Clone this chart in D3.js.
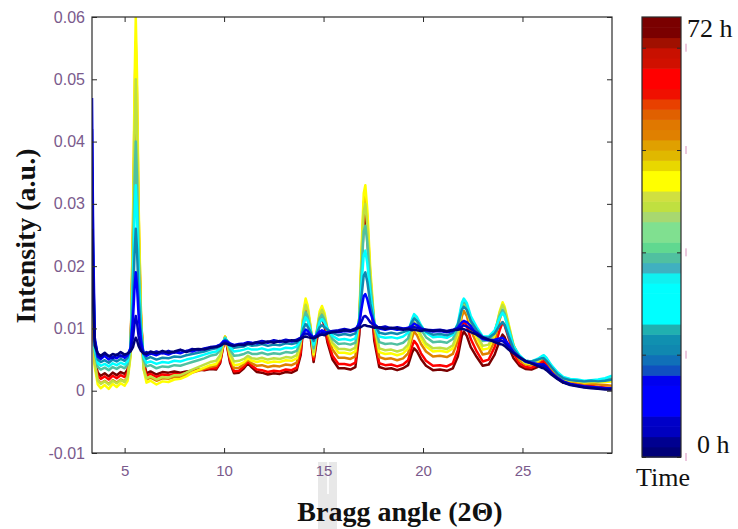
<!DOCTYPE html>
<html><head><meta charset="utf-8">
<script src="https://cdn.jsdelivr.net/npm/d3@7"></script>
<style>body{margin:0;background:#fff}svg{display:block}</style>
</head><body><svg id="c" width="738" height="529"></svg>
<script>
// Bragg angles (2θ) sampled along the patterns
const braggAngles = [
3.36,3.42,3.5,3.65,3.8,4.0,4.2,4.4,4.6,4.8,
5.0,5.15,5.3,5.42,5.5,5.56,5.62,5.7,5.82,5.95,
6.1,6.3,6.6,6.9,7.2,7.5,7.8,8.1,8.4,8.7,
9.0,9.3,9.6,9.8,9.95,10.05,10.15,10.3,10.5,10.75,
11.0,11.2,11.4,11.65,11.9,12.2,12.5,12.8,13.1,13.4,
13.65,13.85,14.0,14.1,14.2,14.35,14.5,14.65,14.8,14.92,
15.05,15.2,15.45,15.75,16.05,16.35,16.6,16.8,16.92,17.02,
17.1,17.2,17.35,17.55,17.8,18.1,18.4,18.7,19.0,19.25,
19.45,19.55,19.7,19.9,20.15,20.5,20.85,21.2,21.5,21.75,
21.95,22.05,22.2,22.4,22.7,23.0,23.3,23.6,23.85,24.0,
24.1,24.3,24.55,24.85,25.15,25.45,25.75,25.95,26.07,26.2,
26.45,26.75,27.05,27.4,27.75,28.1,28.45,28.8,29.15,29.5];

// Intensity patterns, one per time step (spectrum index on the colour bar)
const spectrum00 = [
.026,.014,.0072,.0060,.0056,.0061,.0055,.0059,.0057,.0062,
.0058,.0060,.0063,.0070,.0080,.0085,.0081,.0072,.0064,.0060,
.0059,.0063,.0060,.0064,.0061,.0063,.0066,.0062,.0066,.0067,
.0066,.0069,.0070,.0072,.0075,.0076,.0075,.0073,.0072,.0074,
.0073,.0076,.0075,.0078,.0076,.0079,.0077,.0080,.0078,.0081,
.0080,.0083,.0086,.0087,.0086,.0085,.0084,.0086,.0089,.0090,
.0089,.0092,.0094,.0095,.0097,.0096,.0099,.0101,.0103,.0105,
.0105,.0104,.0103,.0101,.0102,.0099,.0101,.0100,.0098,.0099,
.0097,.0098,.0097,.0096,.0098,.0096,.0097,.0095,.0097,.0098,
.0099,.0099,.0097,.0094,.0090,.0085,.0082,.0078,.0075,.0074,
.0072,.0066,.0060,.0053,.0048,.0044,.0040,.0037,.0036,.0033,
.0026,.0019,.0013,.0009,.0007,.0005,.0004,.0003,.0002,.0002];
const spectrum03 = [
.042,.020,.0080,.0058,.0053,.0059,.0056,.0052,.0058,.0055,
.0057,.0059,.0066,.0085,.0108,.0120,.0110,.0088,.0069,.0060,
.0062,.0059,.0063,.0060,.0064,.0061,.0065,.0063,.0067,.0065,
.0068,.0070,.0071,.0073,.0077,.0078,.0077,.0075,.0073,.0074,
.0075,.0077,.0076,.0078,.0080,.0078,.0081,.0079,.0082,.0080,
.0082,.0085,.0090,.0092,.0091,.0088,.0086,.0088,.0091,.0093,
.0092,.0094,.0096,.0097,.0099,.0097,.0100,.0104,.0112,.0119,
.0120,.0117,.0110,.0105,.0101,.0103,.0100,.0102,.0100,.0100,
.0101,.0102,.0101,.0099,.0098,.0097,.0098,.0096,.0098,.0100,
.0103,.0105,.0103,.0099,.0093,.0086,.0082,.0080,.0080,.0080,
.0077,.0070,.0062,.0054,.0047,.0044,.0041,.0040,.0040,.0037,
.0028,.0020,.0014,.0010,.0008,.0006,.0005,.0004,.0003,.0003];
const spectrum05 = [
.047,.024,.0085,.0055,.0051,.0056,.0050,.0055,.0052,.0057,
.0053,.0057,.0069,.0115,.0165,.0190,.0169,.0122,.0080,.0060,
.0056,.0060,.0057,.0061,.0058,.0062,.0060,.0064,.0063,.0066,
.0067,.0069,.0071,.0074,.0079,.0080,.0079,.0076,.0073,.0075,
.0076,.0078,.0077,.0076,.0079,.0077,.0080,.0078,.0081,.0079,
.0081,.0085,.0093,.0098,.0096,.0090,.0085,.0089,.0095,.0097,
.0095,.0093,.0095,.0094,.0096,.0095,.0097,.0109,.0134,.0152,
.0155,.0147,.0126,.0107,.0100,.0098,.0100,.0098,.0099,.0101,
.0104,.0108,.0105,.0100,.0097,.0095,.0096,.0094,.0096,.0101,
.0110,.0112,.0110,.0104,.0090,.0083,.0081,.0082,.0084,.0085,
.0082,.0074,.0062,.0053,.0047,.0045,.0043,.0042,.0042,.0039,
.0029,.0021,.0015,.0011,.0009,.0007,.0006,.0005,.0004,.0004];
const spectrum10 = [
.036,.019,.0075,.0050,.0046,.0049,.0045,.0050,.0047,.0051,
.0048,.0053,.0069,.0143,.0222,.0260,.0228,.0154,.0090,.0060,
.0051,.0054,.0050,.0053,.0052,.0055,.0054,.0057,.0059,.0061,
.0063,.0066,.0068,.0072,.0078,.0082,.0080,.0074,.0069,.0070,
.0071,.0074,.0072,.0073,.0075,.0072,.0074,.0073,.0076,.0075,
.0077,.0084,.0101,.0107,.0103,.0094,.0080,.0091,.0102,.0105,
.0102,.0098,.0093,.0089,.0091,.0089,.0092,.0112,.0155,.0185,
.0190,.0175,.0140,.0108,.0093,.0091,.0093,.0091,.0094,.0097,
.0111,.0116,.0112,.0103,.0095,.0090,.0091,.0089,.0093,.0106,
.0130,.0135,.0130,.0112,.0097,.0086,.0085,.0092,.0105,.0110,
.0106,.0088,.0067,.0055,.0048,.0047,.0050,.0052,.0052,.0048,
.0038,.0027,.0020,.0017,.0016,.0015,.0016,.0015,.0016,.0018];
const spectrum14 = [
.034,.018,.0068,.0044,.0040,.0043,.0039,.0044,.0041,.0045,
.0042,.0047,.0070,.0172,.0278,.0330,.0287,.0186,.0100,.0055,
.0045,.0047,.0043,.0046,.0045,.0048,.0047,.0050,.0052,.0055,
.0058,.0061,.0063,.0068,.0078,.0084,.0080,.0070,.0063,.0064,
.0066,.0068,.0066,.0066,.0068,.0065,.0067,.0066,.0069,.0068,
.0071,.0082,.0109,.0118,.0113,.0096,.0074,.0092,.0110,.0115,
.0109,.0099,.0088,.0082,.0083,.0081,.0084,.0113,.0175,.0218,
.0225,.0204,.0155,.0108,.0087,.0085,.0086,.0084,.0087,.0093,
.0115,.0123,.0118,.0105,.0093,.0086,.0087,.0085,.0090,.0108,
.0141,.0148,.0141,.0120,.0102,.0087,.0087,.0097,.0117,.0125,
.0120,.0098,.0071,.0057,.0048,.0047,.0051,.0055,.0057,.0053,
.0041,.0030,.0022,.0019,.0018,.0016,.0017,.0018,.0020,.0024];
const spectrum19 = [
.032,.017,.0062,.0038,.0034,.0037,.0033,.0038,.0035,.0039,
.0036,.0042,.0070,.0200,.0334,.0400,.0345,.0218,.0109,.0050,
.0039,.0041,.0036,.0039,.0038,.0041,.0040,.0043,.0046,.0049,
.0052,.0056,.0058,.0065,.0078,.0085,.0080,.0066,.0056,.0057,
.0059,.0062,.0059,.0059,.0061,.0058,.0060,.0059,.0062,.0061,
.0064,.0080,.0114,.0126,.0119,.0097,.0068,.0092,.0116,.0122,
.0114,.0099,.0083,.0075,.0076,.0074,.0077,.0117,.0199,.0256,
.0265,.0237,.0170,.0109,.0078,.0075,.0076,.0074,.0077,.0084,
.0109,.0118,.0112,.0098,.0086,.0078,.0079,.0077,.0083,.0101,
.0137,.0145,.0137,.0116,.0096,.0080,.0081,.0095,.0120,.0130,
.0124,.0101,.0072,.0055,.0047,.0046,.0050,.0054,.0056,.0052,
.0040,.0029,.0021,.0018,.0017,.0015,.0016,.0017,.0018,.0020];
const spectrum24 = [
.030,.015,.0045,.0016,.0011,.0015,.0010,.0016,.0012,.0017,
.0014,.0022,.0058,.0233,.0413,.0500,.0427,.0257,.0111,.0035,
.0020,.0023,.0018,.0022,.0021,.0025,.0025,.0029,.0034,.0038,
.0042,.0046,.0048,.0057,.0075,.0086,.0078,.0060,.0047,.0048,
.0051,.0056,.0052,.0051,.0053,.0050,.0052,.0051,.0054,.0053,
.0057,.0078,.0123,.0138,.0129,.0100,.0062,.0093,.0122,.0130,
.0120,.0098,.0077,.0067,.0067,.0065,.0069,.0117,.0218,.0288,
.0300,.0265,.0183,.0108,.0068,.0065,.0066,.0063,.0066,.0074,
.0100,.0110,.0104,.0089,.0076,.0068,.0069,.0067,.0073,.0094,
.0133,.0142,.0134,.0111,.0090,.0072,.0074,.0092,.0125,.0138,
.0132,.0105,.0073,.0054,.0045,.0044,.0048,.0053,.0055,.0051,
.0039,.0028,.0020,.0017,.0016,.0014,.0015,.0016,.0016,.0017];
const spectrum27 = [
.029,.014,.0038,.0010,.0004,.0009,.0003,.0011,.0006,.0012,
.0008,.0016,.0056,.0274,.0493,.0600,.0511,.0304,.0126,.0035,
.0013,.0016,.0010,.0015,.0014,.0018,.0019,.0023,.0029,.0033,
.0037,.0041,.0043,.0053,.0074,.0087,.0077,.0056,.0041,.0042,
.0046,.0052,.0048,.0046,.0048,.0045,.0047,.0046,.0049,.0048,
.0052,.0077,.0130,.0148,.0137,.0103,.0058,.0093,.0127,.0136,
.0125,.0098,.0074,.0061,.0061,.0059,.0063,.0119,.0236,.0317,
.0330,.0290,.0195,.0109,.0062,.0059,.0060,.0057,.0060,.0068,
.0095,.0105,.0099,.0084,.0071,.0063,.0064,.0062,.0068,.0090,
.0131,.0140,.0131,.0107,.0085,.0066,.0068,.0089,.0127,.0142,
.0135,.0108,.0073,.0053,.0044,.0043,.0047,.0052,.0054,.0050,
.0038,.0027,.0019,.0016,.0015,.0013,.0014,.0014,.0014,.0015];
const spectrum31 = [
.028,.014,.0042,.0017,.0012,.0016,.0011,.0017,.0013,.0018,
.0015,.0023,.0062,.0260,.0462,.0560,.0478,.0288,.0124,.0040,
.0018,.0021,.0016,.0020,.0019,.0022,.0022,.0025,.0029,.0032,
.0035,.0038,.0040,.0050,.0073,.0087,.0075,.0052,.0036,.0037,
.0043,.0050,.0044,.0040,.0041,.0038,.0040,.0039,.0042,.0041,
.0045,.0071,.0124,.0142,.0132,.0099,.0055,.0089,.0121,.0130,
.0116,.0091,.0066,.0053,.0053,.0051,.0055,.0110,.0223,.0302,
.0315,.0276,.0184,.0099,.0054,.0051,.0052,.0049,.0052,.0060,
.0085,.0095,.0089,.0075,.0063,.0055,.0056,.0054,.0059,.0081,
.0119,.0128,.0120,.0097,.0076,.0058,.0060,.0080,.0114,.0128,
.0122,.0098,.0068,.0049,.0042,.0041,.0045,.0050,.0052,.0048,
.0036,.0025,.0017,.0014,.0013,.0011,.0011,.0010,.0009,.0008];
const spectrum36 = [
.022,.012,.0045,.0024,.0019,.0023,.0018,.0024,.0020,.0025,
.0022,.0030,.0065,.0237,.0414,.0500,.0428,.0261,.0118,.0045,
.0024,.0027,.0022,.0026,.0025,.0027,.0026,.0028,.0031,.0033,
.0034,.0036,.0036,.0046,.0071,.0086,.0073,.0048,.0031,.0032,
.0039,.0047,.0040,.0034,.0033,.0030,.0032,.0031,.0034,.0033,
.0037,.0062,.0114,.0132,.0122,.0091,.0050,.0082,.0113,.0122,
.0108,.0082,.0056,.0043,.0043,.0041,.0045,.0099,.0210,.0287,
.0300,.0261,.0171,.0088,.0044,.0041,.0042,.0039,.0042,.0049,
.0071,.0080,.0074,.0060,.0048,.0040,.0041,.0039,.0044,.0065,
.0103,.0112,.0104,.0083,.0063,.0047,.0050,.0070,.0097,.0110,
.0105,.0085,.0060,.0044,.0038,.0037,.0041,.0046,.0048,.0044,
.0032,.0022,.0015,.0012,.0011,.0009,.0008,.0006,.0005,.0004];
const spectrum41 = [
.020,.011,.0048,.0029,.0024,.0028,.0023,.0029,.0025,.0030,
.0027,.0034,.0067,.0222,.0382,.0460,.0395,.0244,.0114,.0048,
.0028,.0031,.0026,.0030,.0029,.0031,.0029,.0031,.0032,.0034,
.0033,.0035,.0034,.0044,.0070,.0085,.0071,.0045,.0028,.0029,
.0036,.0044,.0037,.0030,.0029,.0026,.0028,.0027,.0030,.0029,
.0033,.0057,.0108,.0125,.0116,.0086,.0046,.0078,.0109,.0118,
.0103,.0077,.0050,.0036,.0036,.0034,.0038,.0090,.0198,.0273,
.0285,.0248,.0160,.0080,.0038,.0035,.0036,.0033,.0036,.0041,
.0061,.0068,.0063,.0051,.0040,.0033,.0034,.0032,.0036,.0055,
.0088,.0095,.0088,.0070,.0054,.0040,.0042,.0058,.0080,.0090,
.0086,.0071,.0052,.0040,.0035,.0034,.0038,.0043,.0045,.0041,
.0030,.0020,.0013,.0011,.0010,.0008,.0006,.0004,.0003,.0002];

const spectra = [spectrum00, spectrum03, spectrum05, spectrum10, spectrum14, spectrum19,
                 spectrum24, spectrum27, spectrum31, spectrum36, spectrum41];
const spectrumIndex = [0, 3, 5, 10, 14, 19, 24, 27, 31, 36, 41];

// colour bar bands (index 0 = 0 h at bottom, 42 = 72 h at top)
const timeColors = [
"#000078","#000090","#0000c0","#0000c8","#0000ff","#0000ff","#0000ff","#0000f0",
"#1050c0","#1070b8","#1088b0","#1090b0","#20b0b0","#00ffff","#00ffff","#00ffff",
"#00ffff","#10f0f0","#40b0c0","#50c0a0","#60d890","#80e090","#80e090","#a8d870",
"#c0e040","#d0e040","#ffff00","#ffff00","#e8d800","#e0b800","#e0a000","#e08000",
"#e07800","#e06000","#e84000","#f01000","#ff0000","#ff0000","#d01000","#c81000",
"#a01000","#7a0000","#7a0000"];
const colorbarTicks = [0, 10, 20, 30, 40];
const colorbarEndLabels = ["0 h", "72 h"];

const xTicks = [5, 10, 15, 20, 25];
const yTicks = [-0.01, 0, 0.01, 0.02, 0.03, 0.04, 0.05, 0.06];
const yTickLabels = ["-0.01", "0", "0.01", "0.02", "0.03", "0.04", "0.05", "0.06"];
const xTitle = "Bragg angle (2\u0398)";
const yTitle = "Intensity (a.u.)";
const cbTitle = "Time";

const svg = d3.select("#c");
const P = {left: 92, right: 612, top: 17, bottom: 453};
const x = d3.scaleLinear().domain([3.36, 29.5]).range([P.left, P.right]);
const y = d3.scaleLinear().domain([-0.01, 0.06]).range([P.bottom, P.top]);
const labelColor = "#7a5a8c";
const axisColor = "#2a2a2a";

svg.append("rect").attr("width", 738).attr("height", 529).attr("fill", "#fff");
// scanning artifact in the source picture
svg.append("rect").attr("x", 318).attr("y", 462).attr("width", 19).attr("height", 67).attr("fill", "#e8e8e8");
svg.append("rect").attr("x", 327).attr("y", 462).attr("width", 2).attr("height", 32).attr("fill", "#fbfbfb");

svg.append("defs").append("clipPath").attr("id", "pc")
  .append("rect").attr("x", P.left).attr("y", P.top)
  .attr("width", P.right - P.left).attr("height", P.bottom - P.top);

const line = d3.line().x((d, i) => x(braggAngles[i])).y(d => y(d));
const gL = svg.append("g").attr("clip-path", "url(#pc)");
const order = d3.range(spectra.length).reverse();
gL.selectAll("path").data(order).join("path")
  .attr("d", k => line(spectra[k]))
  .attr("fill", "none")
  .attr("stroke", k => timeColors[spectrumIndex[k]])
  .attr("stroke-width", 2.5)
  .attr("stroke-linejoin", "round");

function styleAxis(g, fs) {
  g.select(".domain").remove();
  g.selectAll(".tick line").attr("stroke", axisColor);
  g.selectAll("text").attr("fill", labelColor)
    .attr("font-family", "Arial, 'Liberation Sans', sans-serif").attr("font-size", fs);
}
svg.append("g").attr("transform", `translate(0,${P.bottom})`)
  .call(d3.axisBottom(x).tickValues(xTicks).tickSizeInner(-5).tickSizeOuter(0).tickPadding(12).tickFormat(d3.format("d")))
  .call(g => styleAxis(g, 15));
svg.append("g").attr("transform", `translate(0,${P.top})`)
  .call(d3.axisTop(x).tickValues(xTicks).tickSizeInner(-5).tickSizeOuter(0).tickFormat(""))
  .call(g => styleAxis(g, 15));
svg.append("g").attr("transform", `translate(${P.left},0)`)
  .call(d3.axisLeft(y).tickValues(yTicks).tickSizeInner(-5).tickSizeOuter(0).tickPadding(7)
    .tickFormat((d, i) => yTickLabels[i]))
  .call(g => styleAxis(g, 16));
svg.append("g").attr("transform", `translate(${P.right},0)`)
  .call(d3.axisRight(y).tickValues(yTicks).tickSizeInner(-5).tickSizeOuter(0).tickFormat(""))
  .call(g => styleAxis(g, 16));

svg.append("rect").attr("x", P.left).attr("y", P.top)
  .attr("width", P.right - P.left).attr("height", P.bottom - P.top)
  .attr("fill", "none").attr("stroke", axisColor).attr("stroke-width", 1.2);

// titles
svg.append("text").attr("x", 400).attr("y", 521).attr("text-anchor", "middle")
  .attr("font-family", "'Liberation Serif', 'Times New Roman', serif").attr("font-weight", "bold")
  .attr("font-size", 28).attr("fill", "#111").text(xTitle);
svg.append("text").attr("transform", "translate(35,236) rotate(-90)").attr("text-anchor", "middle")
  .attr("font-family", "'Liberation Serif', 'Times New Roman', serif").attr("font-weight", "bold")
  .attr("font-size", 28).attr("fill", "#111").text(yTitle);

// colour bar
const CB = {left: 642, right: 681, top: 17, bottom: 457};
const cb = d3.scaleLinear().domain([0, timeColors.length]).range([CB.bottom, CB.top]);
svg.append("g").selectAll("rect").data(timeColors).join("rect")
  .attr("x", CB.left).attr("width", CB.right - CB.left)
  .attr("y", (c, i) => cb(i + 1))
  .attr("height", (c, i) => cb(i) - cb(i + 1) + 0.6)
  .attr("fill", c => c);
svg.append("g").attr("transform", `translate(${CB.left},0)`)
  .call(d3.axisRight(cb).tickValues(colorbarTicks).tickSizeInner(4).tickSizeOuter(0).tickFormat(""))
  .call(g => styleAxis(g, 12));
svg.append("g").attr("transform", `translate(${CB.right},0)`)
  .call(d3.axisLeft(cb).tickValues(colorbarTicks).tickSizeInner(4).tickSizeOuter(0).tickFormat(""))
  .call(g => styleAxis(g, 12));
svg.append("g").selectAll("line").data(colorbarTicks).join("line")
  .attr("x1", 686).attr("x2", 686)
  .attr("y1", d => cb(d) - 4).attr("y2", d => cb(d) + 4)
  .attr("stroke", "#d890bc").attr("stroke-width", 1);
svg.append("rect").attr("x", CB.left).attr("y", CB.top)
  .attr("width", CB.right - CB.left).attr("height", CB.bottom - CB.top)
  .attr("fill", "none").attr("stroke", axisColor).attr("stroke-width", 1.2);

const serif = "'Liberation Serif', 'Times New Roman', serif";
svg.append("text").attr("x", 687).attr("y", 37).attr("font-family", serif)
  .attr("font-size", 26).attr("fill", "#111").text(colorbarEndLabels[1]);
svg.append("text").attr("x", 697).attr("y", 453).attr("font-family", serif)
  .attr("font-size", 26).attr("fill", "#111").text(colorbarEndLabels[0]);
svg.append("text").attr("x", 636).attr("y", 486).attr("font-family", serif)
  .attr("font-size", 26).attr("fill", "#111").text(cbTitle);
</script></body></html>
